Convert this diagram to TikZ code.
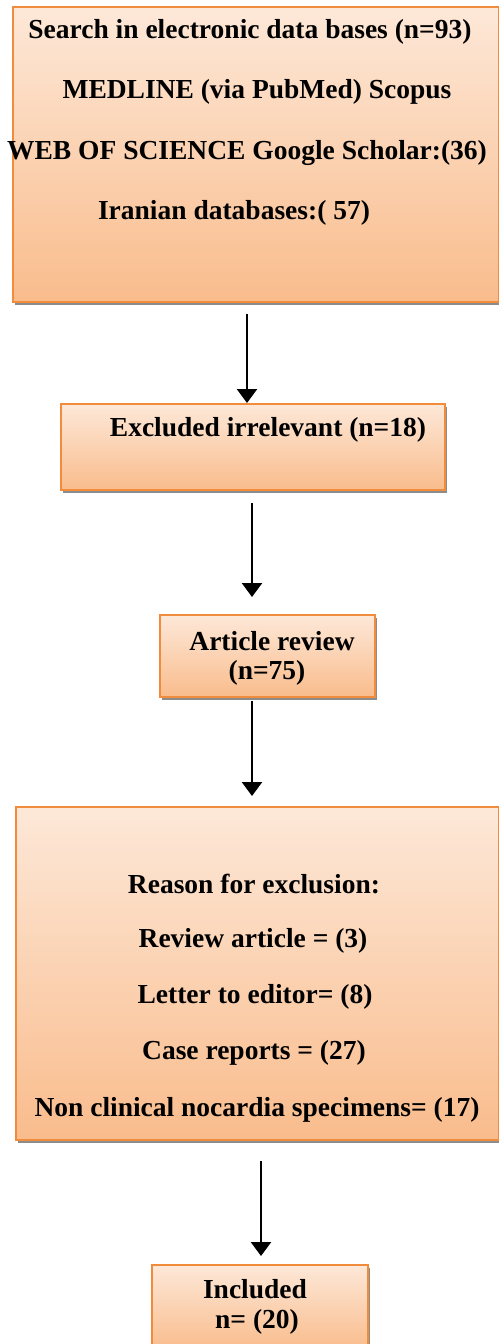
\documentclass[tikz,border=0pt]{standalone}
\usepackage{fontspec}
\setmainfont{Liberation Serif}
\usetikzlibrary{arrows.meta,shadows}
\definecolor{boxtop}{RGB}{253,232,216}
\definecolor{boxbot}{RGB}{249,188,140}
\definecolor{boxline}{RGB}{240,140,60}
\begin{document}
\begin{tikzpicture}[x=1pt,y=-1pt,
  box/.style={draw=boxline,line width=2pt,top color=boxtop,bottom color=boxbot,inner sep=0pt,
    drop shadow={shadow xshift=1.5pt,shadow yshift=-3pt,fill=black!45,opacity=1}},
  txt/.style={font=\fontsize{27.5}{30}\selectfont\bfseries,inner sep=0pt,anchor=center},
  arr/.style={line width=2.4pt,-{Triangle[width=20pt,length=14pt]}}]
\useasboundingbox (0,0) rectangle (498,1344);

% boxes
\node[box,minimum width=486pt,minimum height=295pt] (b1) at (256,154.5) {};
\node[box,minimum width=384pt,minimum height=86pt] (b2) at (253,447) {};
\node[box,minimum width=215pt,minimum height=82pt] (b3) at (267.5,656) {};
\node[box,minimum width=483pt,minimum height=333pt] (b4) at (257.5,973.5) {};
\node[box,minimum width=216pt,minimum height=85pt] (b5) at (260,1307.5) {};

% texts
\node[txt] (t11) at (250,32) {Search in electronic data bases (n=93)};
\node[txt] (t12) at (257,92) {MEDLINE (via PubMed) Scopus};
\node[txt] (t13) at (247,153) {WEB OF SCIENCE Google Scholar:(36)};
\node[txt] (t14) at (234,213) {Iranian databases:( 57)};

\node[txt] (t21) at (268,430) {Excluded irrelevant (n=18)};

\node[txt] (t31) at (272,641) {Article review};
\node[txt] (t32) at (267,673) {(n=75)};

\node[txt] (t41) at (254,884) {Reason for exclusion:};
\node[txt] (t42) at (253,941) {Review article = (3)};
\node[txt] (t43) at (255,997) {Letter to editor= (8)};
\node[txt] (t44) at (254,1053) {Case reports = (27)};
\node[txt] (t45) at (257,1110) {Non clinical nocardia specimens= (17)};

\node[txt] (t51) at (255,1289) {Included};
\node[txt] (t52) at (257,1322) {n= (20)};

% arrow columns
\coordinate (a1x) at (247,0);
\coordinate (a2x) at (252,0);
\coordinate (a3x) at (252,0);
\coordinate (a4x) at (261,0);

\draw[arr,shorten <=11pt] (b1.south -| a1x) -- (b2.north -| a1x);
\draw[arr,shorten <=12pt,shorten >=17pt] (b2.south -| a2x) -- (b3.north -| a2x);
\draw[arr,shorten <=3pt,shorten >=10pt] (b3.south -| a3x) -- (b4.north -| a3x);
\draw[arr,shorten <=20pt,shorten >=8pt] (b4.south -| a4x) -- (b5.north -| a4x);
\end{tikzpicture}
\end{document}
